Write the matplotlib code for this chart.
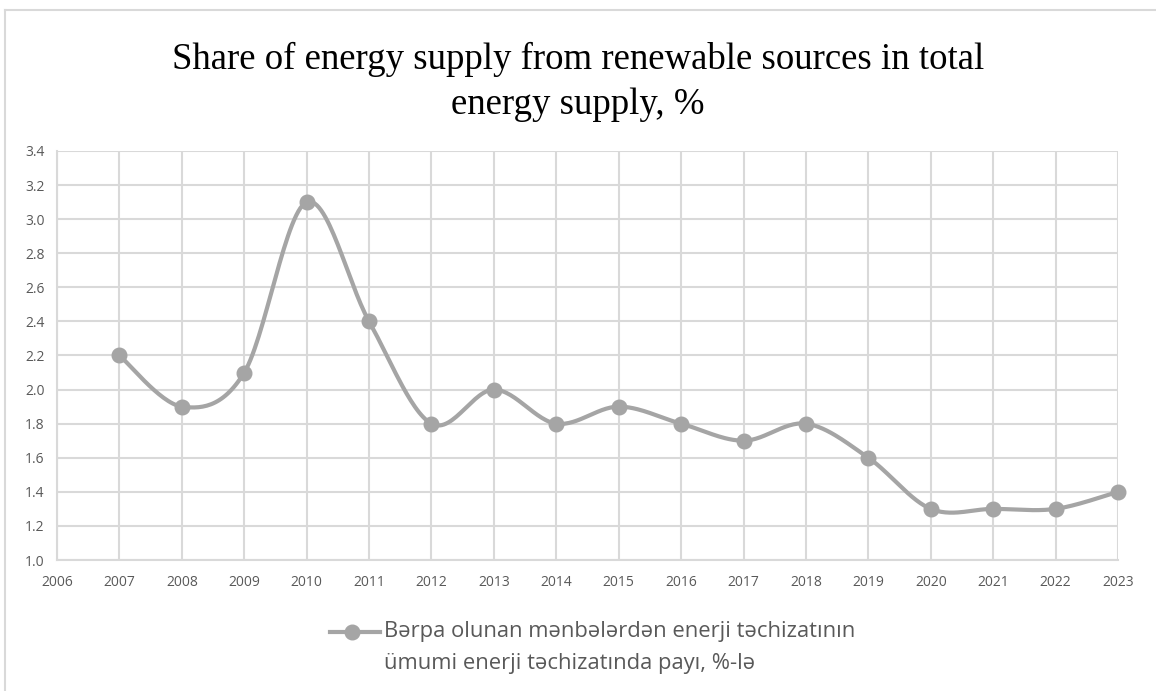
import numpy as np
import matplotlib.pyplot as plt
from matplotlib.lines import Line2D

# Data
years = [2007, 2008, 2009, 2010, 2011, 2012, 2013, 2014, 2015,
         2016, 2017, 2018, 2019, 2020, 2021, 2022, 2023]
share = [2.2, 1.9, 2.1, 3.1, 2.4, 1.8, 2.0, 1.8, 1.9,
         1.8, 1.7, 1.8, 1.6, 1.3, 1.3, 1.3, 1.4]

TITLE = "Share of energy supply from renewable sources in total\nenergy supply, %"
LEGEND_LABEL = "Bərpa olunan mənbələrdən enerji təchizatının\nümumi enerji təchizatında payı, %-lə"

LINE_COLOR = "#A5A5A5"
GRID_COLOR = "#D9D9D9"
TEXT_COLOR = "#595959"

W, H = 1156, 691


def smooth_curve(x, y, steps=30):
    """Catmull-Rom style smoothing, similar to Excel's smoothed line."""
    x = np.asarray(x, float)
    y = np.asarray(y, float)
    xs, ys = [], []
    n = len(x)
    for i in range(n - 1):
        p0 = (x[max(i - 1, 0)], y[max(i - 1, 0)])
        p1 = (x[i], y[i])
        p2 = (x[i + 1], y[i + 1])
        p3 = (x[min(i + 2, n - 1)], y[min(i + 2, n - 1)])
        t = np.linspace(0, 1, steps, endpoint=(i == n - 2))
        # Bezier control points from neighbours
        c1 = (p1[0] + (p2[0] - p0[0]) / 6, p1[1] + (p2[1] - p0[1]) / 6)
        c2 = (p2[0] - (p3[0] - p1[0]) / 6, p2[1] - (p3[1] - p1[1]) / 6)
        bx = ((1 - t) ** 3 * p1[0] + 3 * (1 - t) ** 2 * t * c1[0]
              + 3 * (1 - t) * t ** 2 * c2[0] + t ** 3 * p2[0])
        by = ((1 - t) ** 3 * p1[1] + 3 * (1 - t) ** 2 * t * c1[1]
              + 3 * (1 - t) * t ** 2 * c2[1] + t ** 3 * p2[1])
        xs.append(bx)
        ys.append(by)
    return np.concatenate(xs), np.concatenate(ys)


fig = plt.figure(figsize=(W / 100, H / 100), dpi=100)
ax = fig.add_axes([57 / W, 1 - 560 / H, (1118 - 57) / W, (560 - 151) / H])

sx, sy = smooth_curve(years, share)
ax.plot(sx, sy, color=LINE_COLOR, linewidth=3, solid_capstyle="round",
        zorder=3, clip_on=False)
ax.plot(years, share, linestyle="none", marker="o", markersize=10.5,
        color=LINE_COLOR, zorder=4, clip_on=False)

ax.set_xlim(2006, 2023)
ax.set_ylim(1.0, 3.4)
ax.set_xticks(range(2006, 2024))
ax.set_yticks(np.arange(1.0, 3.41, 0.2))
ax.set_yticklabels([f"{v:.1f}" for v in np.arange(1.0, 3.41, 0.2)])

ax.grid(True, color=GRID_COLOR, linewidth=1.5)
ax.set_axisbelow(True)
for side in ["top", "right"]:
    ax.spines[side].set_visible(False)
for side in ["left", "bottom"]:
    ax.spines[side].set_color(GRID_COLOR)
    ax.spines[side].set_linewidth(1.5)
ax.tick_params(length=0, labelsize=10, colors=TEXT_COLOR)
ax.tick_params(axis="x", pad=11)
ax.tick_params(axis="y", pad=9)
for lab in ax.get_xticklabels() + ax.get_yticklabels():
    lab.set_fontfamily("Open Sans")

fig.text(0.5, 1 - 82 / H, TITLE, ha="center", va="center",
         fontsize=26.5, family="Liberation Serif", color="black", linespacing=1.4)

# Legend drawn by hand so the two text lines can be spaced like the original
fig.add_artist(Line2D([330 / W, 380 / W], [1 - 632 / H, 1 - 632 / H], color=LINE_COLOR,
                      linewidth=3, transform=fig.transFigure))
fig.add_artist(Line2D([352 / W], [1 - 632 / H], color=LINE_COLOR, marker="o",
                      markersize=10.5, transform=fig.transFigure))
fig.text(384 / W, 1 - 632 / H, LEGEND_LABEL.split("\n")[0], ha="left", va="center",
         fontsize=15.8, family="Open Sans", color=TEXT_COLOR)
fig.text(384 / W, 1 - 663 / H, LEGEND_LABEL.split("\n")[1], ha="left", va="center",
         fontsize=15.8, family="Open Sans", color=TEXT_COLOR)

# Outer frame lines
fig.add_artist(Line2D([5 / W, 5 / W], [0, 1 - 10 / H], color=GRID_COLOR,
                      linewidth=1.5, transform=fig.transFigure))
fig.add_artist(Line2D([5 / W, 1], [1 - 10 / H, 1 - 10 / H], color=GRID_COLOR,
                      linewidth=1.5, transform=fig.transFigure))

fig.savefig("out.png", dpi=100)
